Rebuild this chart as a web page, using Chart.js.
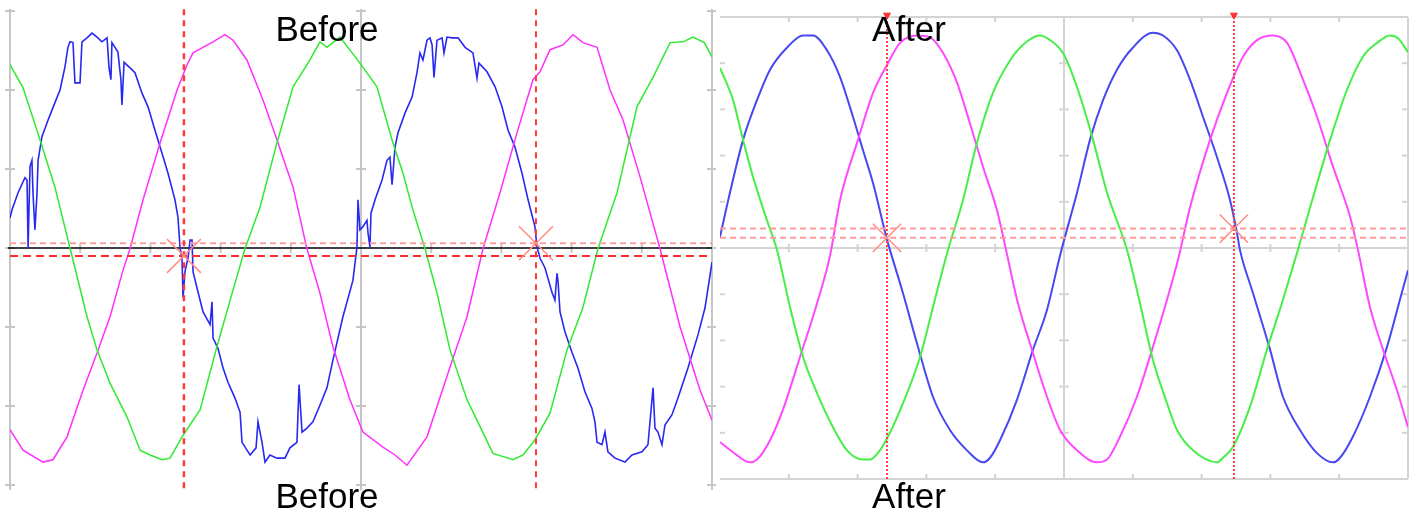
<!DOCTYPE html>
<html>
<head>
<meta charset="utf-8">
<script src="https://cdn.jsdelivr.net/npm/chart.js@4.4.1/dist/chart.umd.min.js"></script>
<style>
html,body{margin:0;padding:0;background:#fff;overflow:hidden;}
#wrap{position:relative;width:1416px;height:512px;}
canvas{position:absolute;top:0;}
#cBefore{left:0;}
#cAfter{left:716px;}
.lbl{position:absolute;font-family:"Liberation Sans",Arial,sans-serif;font-size:35px;line-height:35px;color:#000;transform:translateX(-50%);white-space:nowrap;z-index:2;}
</style>
</head>
<body>
<div id="wrap">
<canvas id="cBefore" width="716" height="512"></canvas>
<canvas id="cAfter" width="700" height="512"></canvas>
<div class="lbl" id="tBeforeTop" style="left:327px;top:11px"></div>
<div class="lbl" id="tBeforeBottom" style="left:327px;top:478px"></div>
<div class="lbl" id="tAfterTop" style="left:909px;top:11px"></div>
<div class="lbl" id="tAfterBottom" style="left:909px;top:478px"></div>
</div>
<script>
// ---- labels ----
const panelLabels = ["Before", "After"];

// ---- axes (time in ms, voltage in V) ----
const timeRange = [0, 40];            // 10 divisions x 4 ms
const timeDivs = [4, 8, 12, 16, 20, 24, 28, 32, 36];
const beforeVRange = [-300, 300];     // 6 divisions x 100 V
const beforeVDivs = [-300, -200, -100, 0, 100, 200, 300];
const afterVRange = [-250, 250];      // 10 divisions x 50 V
const afterVDivs = [-200, -150, -100, -50, 50, 100, 150, 200];

// ---- BEFORE: phase voltages ----
const beforeBlueT = [0,0.11,0.46,0.85,0.97,1.03,1.14,1.25,1.31,1.42,1.54,1.60,1.82,2.17,2.56,2.85,3.13,3.30,3.42,3.59,3.70,3.99,4.10,4.39,4.67,4.96,5.24,5.53,5.64,5.75,5.81,6.15,6.32,6.38,6.50,6.84,7.12,7.52,7.86,8.26,8.66,9.00,9.40,9.57,9.69,9.80,9.86,9.97,10.14,10.26,10.37,10.43,10.66,11.00,11.40,11.51,11.57,11.85,12.14,12.42,12.82,13.11,13.22,13.68,14.02,14.13,14.36,14.53,14.81,15.21,15.67,15.95,16.35,16.47,16.64,16.92,17.26,17.66,18.06,18.40,18.97,19.54,19.77,19.83,19.94,20.11,20.34,20.40,20.51,20.57,20.80,21.20,21.48,21.65,21.77,21.94,22.11,22.51,22.91,23.19,23.36,23.53,23.76,23.93,24.05,24.16,24.33,24.62,24.73,24.90,25.19,25.53,25.93,26.38,26.61,26.72,27.18,27.64,28.03,28.38,28.77,29.17,29.52,29.91,30.03,30.20,30.48,30.88,31.05,31.17,31.23,31.34,31.62,32.02,32.36,32.76,33.16,33.33,33.45,33.73,33.90,34.07,34.47,35.04,35.44,36.01,36.35,36.64,36.75,36.92,37.15,37.32,37.72,38.06,38.63,39.20,39.60,40.0];
const beforeBlueV = [38,48,70,89,86,0,103,111,70,23,70,111,141,162,184,200,229,254,261,260,209,209,261,266,272,267,261,266,229,213,260,248,213,181,235,228,222,196,179,149,120,95,61,39,0,-13,-63,-30,-13,10,10,-30,-51,-81,-97,-68,-114,-127,-152,-170,-190,-208,-246,-262,-253,-220,-246,-271,-262,-266,-266,-253,-246,-173,-233,-228,-220,-199,-177,-142,-87,-41,1,61,23,27,35,19,1,44,61,86,111,115,80,128,146,171,191,222,247,238,263,266,257,216,263,266,247,267,266,266,254,247,215,234,223,204,179,149,128,95,61,27,1,-13,-25,-56,-66,-32,-43,-81,-106,-132,-152,-182,-203,-220,-246,-249,-233,-258,-266,-271,-262,-258,-249,-177,-228,-233,-249,-224,-211,-190,-152,-110,-76,-18];

const beforeMagentaT = [0,0.74,1.88,2.45,3.25,4.16,4.96,5.70,6.44,6.84,7.58,8.55,9.52,10.09,10.43,11.57,12.25,12.71,13.50,14.42,15.21,16.13,16.92,17.66,18.40,19.37,20.11,21.25,21.94,22.62,23.76,25.07,26.04,26.95,27.92,28.89,29.80,30.20,30.77,31.51,32.08,32.65,33.45,34.19,34.93,35.90,37.04,38.18,39.32,40.0];
const beforeMagentaV = [-230,-256,-271,-268,-239,-180,-133,-87,-28,-1,61,133,200,232,247,261,270,263,238,187,137,77,-1,-57,-125,-192,-233,-252,-262,-275,-239,-151,-87,-1,70,146,213,223,251,257,270,260,254,200,162,90,-1,-100,-180,-218];

const beforeGreenT = [0,0.74,1.71,2.56,3.42,4.39,4.96,5.70,6.67,7.41,7.98,8.66,9.12,9.86,10.83,11.79,12.71,13.39,14.25,15.21,16.13,17.09,17.66,18.06,18.80,19.94,20.91,21.82,22.39,22.96,23.65,24.33,25.07,26.04,27.52,28.66,29.23,29.91,30.77,31.74,32.65,33.50,34.59,35.73,36.64,37.61,38.35,38.92,39.56,40.0];
const beforeGreenV = [232,203,137,77,0,-87,-129,-171,-214,-256,-262,-268,-266,-237,-205,-125,-53,-1,52,133,204,238,261,254,267,234,204,133,95,48,-1,-57,-129,-192,-260,-268,-262,-243,-209,-129,-75,-1,70,179,216,260,261,267,260,242];

// BEFORE cursors
const beforeCursorT = [9.91, 29.97];
const beforeLevelV = [6, -10];
const beforeMarkT = [9.91, 29.97];
const beforeMarkV = [-10, 6];

// ---- AFTER: phase voltages ----
const afterBlueT = [0,0.58,1.34,2.15,2.91,3.90,4.83,5.41,6.22,6.98,7.73,8.31,8.90,9.71,9.88,10.64,11.45,12.38,13.37,14.36,15.29,15.70,16.28,17.27,18.20,19.01,19.77,20.76,21.51,22.27,23.08,24.01,25.17,25.76,26.57,27.33,28.08,28.90,29.65,30.06,30.23,30.99,31.98,32.73,33.72,34.71,35.64,36.05,36.80,37.79,38.78,39.53,40.0];
const afterBlueV = [12,60,117,160,193,217,230,230,214,185,142,106,70,9,-2,-49,-103,-161,-197,-219,-232,-227,-208,-164,-110,-67,-8,60,117,160,193,217,233,230,214,182,142,98,52,16,-2,-49,-110,-161,-197,-222,-232,-227,-204,-161,-107,-56,-24];

const afterMagentaT = [0,0.76,1.74,2.15,2.91,3.66,4.65,5.64,6.40,6.98,7.97,8.90,9.71,10.47,11.45,12.21,12.97,13.78,14.53,15.29,16.10,16.63,17.27,18.20,19.01,19.77,20.76,21.92,22.50,23.26,24.24,25.17,25.99,26.69,27.33,28.49,29.48,30.41,31.22,32.15,32.97,33.90,34.71,35.64,36.63,37.09,37.79,38.55,39.36,40.0];
const afterMagentaV = [-210,-221,-232,-229,-208,-175,-118,-60,-8,52,114,168,198,222,230,228,211,179,135,88,41,-2,-56,-114,-161,-197,-219,-232,-229,-204,-161,-107,-56,-8,44,117,168,207,225,230,222,182,142,88,34,-2,-64,-110,-154,-194];

const afterGreenT = [0,0.76,1.34,1.92,2.73,3.31,4.07,4.83,5.64,6.57,7.38,8.31,8.72,9.30,9.88,10.64,11.63,12.38,13.26,14.13,14.94,15.87,16.86,17.62,18.60,19.19,19.94,20.76,21.69,22.50,23.66,24.42,25.17,25.99,26.57,27.50,28.90,29.24,29.83,30.81,31.80,32.73,33.60,34.48,35.47,36.45,37.38,38.20,38.95,39.42,40.0];
const afterGreenV = [195,160,117,77,30,-2,-64,-118,-157,-194,-219,-229,-229,-219,-200,-168,-118,-64,-2,52,114,168,203,220,230,225,211,174,117,60,-2,-60,-121,-168,-197,-219,-232,-227,-215,-172,-110,-56,-2,55,117,171,207,222,230,227,212];

// AFTER cursors
const afterCursorT = [9.71, 29.88];
const afterLevelV = [21, 11];
const afterMarkT = [9.71, 29.88];
const afterMarkV = [11, 21];
const afterCursorTopV = 252;

// ---- labels into DOM ----
document.getElementById('tBeforeTop').textContent = panelLabels[0];
document.getElementById('tBeforeBottom').textContent = panelLabels[0];
document.getElementById('tAfterTop').textContent = panelLabels[1];
document.getElementById('tAfterBottom').textContent = panelLabels[1];

// ---- helpers ----
const pts = (T, V) => T.map((t, i) => ({x: t, y: V[i]}));
function curve(T, V, color, w, smooth) {
  return {type: 'line', data: pts(T, V), borderColor: color, borderWidth: w, pointRadius: 0,
          tension: 0, cubicInterpolationMode: smooth ? 'monotone' : 'default', fill: false, order: 5};
}
function hLine(v, color, dash, w) {
  return {type: 'line', data: [{x: timeRange[0], y: v}, {x: timeRange[1], y: v}], borderColor: color,
          borderWidth: w, borderDash: dash, pointRadius: 0, fill: false, order: 3};
}
function vLine(t, vmin, vmax, color, dash, w) {
  return {type: 'line', data: [{x: t, y: vmin}, {x: t, y: vmax}], borderColor: color,
          borderWidth: w, borderDash: dash, pointRadius: 0, fill: false, clip: false, order: 2};
}
function marks(T, V, r) {
  return {type: 'scatter', data: pts(T, V), pointStyle: 'crossRot', pointRadius: r, pointHoverRadius: r,
          borderColor: '#ff8c84', backgroundColor: '#ff8c84', pointBorderWidth: 1.5, clip: false, order: 1};
}

function line(ctx, x1, y1, x2, y2) { ctx.beginPath(); ctx.moveTo(x1, y1); ctx.lineTo(x2, y2); ctx.stroke(); }

const beforeGrid = {
  id: 'beforeGrid',
  beforeDatasetsDraw(chart) {
    const {ctx, chartArea: a, scales: {x, y}} = chart;
    ctx.save();
    ctx.strokeStyle = '#c6c6c6';
    ctx.lineWidth = 2;
    const vx = [x.getPixelForValue(timeRange[0]), x.getPixelForValue(20), x.getPixelForValue(timeRange[1])];
    vx.forEach(px => {
      line(ctx, px, a.top - 2, px, a.bottom + 5);
      beforeVDivs.forEach(v => { const py = y.getPixelForValue(v); line(ctx, px - 5, py, px + 5, py); });
    });
    const y0 = y.getPixelForValue(0);
    timeDivs.forEach(t => { const px = x.getPixelForValue(t); line(ctx, px, y0 - 5, px, y0 + 5); });
    ctx.strokeStyle = '#000';
    ctx.lineWidth = 1.5;
    line(ctx, a.left - 2, y0, a.right, y0);
    ctx.restore();
  }
};

const afterGrid = {
  id: 'afterGrid',
  beforeDatasetsDraw(chart) {
    const {ctx, chartArea: a, scales: {x, y}} = chart;
    ctx.save();
    ctx.strokeStyle = '#d4d4d4';
    ctx.lineWidth = 2;
    const y0 = y.getPixelForValue(0);
    const xc = x.getPixelForValue(20);
    line(ctx, a.left, a.top, a.right, a.top);
    line(ctx, a.left, a.bottom, a.right, a.bottom);
    line(ctx, a.right, a.top, a.right, a.bottom);
    line(ctx, a.left, y0, a.right, y0);
    line(ctx, xc, a.top, xc, a.bottom);
    timeDivs.forEach(t => {
      const px = x.getPixelForValue(t);
      line(ctx, px, a.top, px, a.top + 5);
      line(ctx, px, a.bottom - 5, px, a.bottom);
      line(ctx, px, y0 - 4, px, y0 + 4);
    });
    afterVDivs.forEach(v => {
      const py = y.getPixelForValue(v);
      line(ctx, a.left, py, a.left + 5, py);
      line(ctx, a.right - 6, py, a.right, py);
      line(ctx, xc - 5, py, xc + 5, py);
    });
    ctx.restore();
  }
};

const common = (vr, pad) => ({
  responsive: false, devicePixelRatio: 1, animation: false, events: [],
  layout: {padding: pad, autoPadding: false},
  plugins: {legend: {display: false}, tooltip: {enabled: false}, title: {display: false}},
  scales: {
    x: {type: 'linear', min: timeRange[0], max: timeRange[1], display: false},
    y: {type: 'linear', min: vr[0], max: vr[1], display: false}
  }
});

new Chart(document.getElementById('cBefore'), {
  type: 'line',
  data: {datasets: [
    curve(beforeGreenT, beforeGreenV, '#30ea30', 1.5, false),
    curve(beforeMagentaT, beforeMagentaV, '#ff30ff', 1.5, false),
    curve(beforeBlueT, beforeBlueV, '#2828f2', 1.6, false),
    hLine(beforeLevelV[0], '#ffa0a0', [6, 4], 2),
    hLine(beforeLevelV[1], '#ff2a2a', [8, 5], 2),
    vLine(beforeCursorT[0], -304, 304, '#ff3a3a', [6, 5], 2.5),
    vLine(beforeCursorT[1], -304, 304, '#ff3a3a', [6, 5], 2),
    marks(beforeMarkT, beforeMarkV, 24)
  ]},
  options: common(beforeVRange, {left: 10, right: 4, top: 11, bottom: 27}),
  plugins: [beforeGrid]
});

new Chart(document.getElementById('cAfter'), {
  type: 'line',
  data: {datasets: [
    curve(afterGreenT, afterGreenV, '#46ee46', 2, true),
    curve(afterMagentaT, afterMagentaV, '#ff48ff', 2, true),
    curve(afterBlueT, afterBlueV, '#4848f0', 2, true),
    hLine(afterLevelV[0], '#ff9a9a', [6, 4], 2),
    hLine(afterLevelV[1], '#ff9a9a', [6, 4], 2),
    vLine(afterCursorT[0], afterVRange[0], afterCursorTopV, '#ff4040', [2, 2], 2),
    vLine(afterCursorT[1], afterVRange[0], afterCursorTopV, '#ff4040', [2, 2], 2),
    {type: 'scatter', data: afterCursorT.map(t => ({x: t, y: afterCursorTopV})), pointStyle: 'triangle', rotation: 180,
     pointRadius: 4, backgroundColor: '#ff3030', borderColor: '#ff3030', clip: false, order: 1},
    marks(afterMarkT, afterMarkV, 20)
  ]},
  options: common(afterVRange, {left: 4, right: 8, top: 17, bottom: 33}),
  plugins: [afterGrid]
});
</script>
</body>
</html>
